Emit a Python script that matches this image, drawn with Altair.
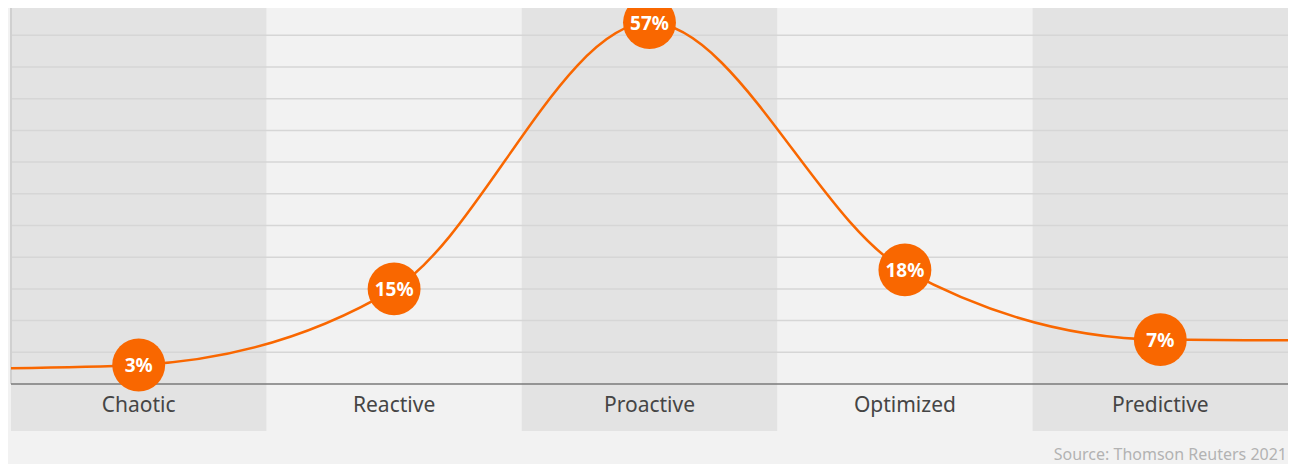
import altair as alt
import pandas as pd

# ---- data ----
stages = ["Chaotic", "Reactive", "Proactive", "Optimized", "Predictive"]
shares = [3, 15, 57, 18, 7]
share_labels = ["3%", "15%", "57%", "18%", "7%"]
edge_left_value = 2.5    # where the curve enters on the left
edge_right_value = 6.9   # where the curve leaves on the right
dark_stages = ["Chaotic", "Proactive", "Predictive"]
grid_values = [5, 10, 15, 20, 25, 30, 35, 40, 45, 50, 55]
source_text = "Source: Thomson Reuters 2021"

# ---- styling ----
ORANGE = "#f96700"
BG = "#f2f2f2"
BAND = "#e3e3e3"
GRID = "#d6d6d6"
FONT = "Noto Sans"

W, H = 1277, 423
Y_DOMAIN = [-7.413, 59.306]
LABEL_Y = -3.5

n = len(stages)
pts = pd.DataFrame({
    "stage": stages,
    "x": [i + 0.5 for i in range(n)],
    "share": shares,
    "label": share_labels,
})
bands = pd.DataFrame({
    "stage": stages,
    "x0": [i for i in range(n)],
    "x1": [i + 1 for i in range(n)],
    "dark": [s in dark_stages for s in stages],
})
bands = bands[bands["dark"]]
line_df = pd.DataFrame({
    "x": [0] + list(pts["x"]) + [n],
    "share": [edge_left_value] + shares + [edge_right_value],
})
grid_df = pd.DataFrame({"v": grid_values})
zero_df = pd.DataFrame({"v": [0]})
cat_df = pd.DataFrame({"stage": stages, "x": list(pts["x"]), "y": [LABEL_Y] * n})

xs = alt.Scale(domain=[0, n], nice=False, zero=False)
ys = alt.Scale(domain=Y_DOMAIN, nice=False, zero=False)

band_layer = alt.Chart(bands).mark_rect(color=BAND).encode(
    x=alt.X("x0:Q", scale=xs, axis=None),
    x2="x1:Q",
    y=alt.value(0),
    y2=alt.value(H),
)

grid_layer = alt.Chart(grid_df).mark_rule(color=GRID, strokeWidth=1.5).encode(
    y=alt.Y("v:Q", scale=ys, axis=None),
    x=alt.value(0),
    x2=alt.value(W),
)

left_axis = alt.Chart(zero_df).mark_rule(color="#d0d0d0", strokeWidth=2).encode(
    y=alt.Y("v:Q", scale=ys, axis=None),
    y2=alt.value(0),
    x=alt.value(0),
)

baseline = alt.Chart(zero_df).mark_rule(color="#7a7a7a", strokeWidth=1.5).encode(
    y=alt.Y("v:Q", scale=ys, axis=None),
    x=alt.value(0),
    x2=alt.value(W),
)

curve = alt.Chart(line_df).mark_line(
    color=ORANGE, strokeWidth=2.5, interpolate="monotone"
).encode(
    x=alt.X("x:Q", scale=xs, axis=None),
    y=alt.Y("share:Q", scale=ys, axis=None),
)

dots = alt.Chart(pts).mark_circle(size=2800, color=ORANGE, opacity=1).encode(
    x=alt.X("x:Q", scale=xs, axis=None),
    y=alt.Y("share:Q", scale=ys, axis=None),
)

dot_text = alt.Chart(pts).mark_text(
    color="white", font=FONT, fontWeight="bold", fontSize=19,
    baseline="middle", align="center", dy=1,
).encode(
    x=alt.X("x:Q", scale=xs, axis=None),
    y=alt.Y("share:Q", scale=ys, axis=None),
    text="label:N",
)

cat_text = alt.Chart(cat_df).mark_text(
    color="#454545", font=FONT, fontSize=21, baseline="middle", align="center",
).encode(
    x=alt.X("x:Q", scale=xs, axis=None),
    y=alt.Y("y:Q", scale=ys, axis=None),
    text="stage:N",
)

src = alt.Chart(pd.DataFrame({"t": [source_text]})).mark_text(
    color="#b3b3b3", font=FONT, fontSize=16, align="right", baseline="middle",
).encode(
    x=alt.value(W - 1),
    y=alt.value(H + 24),
    text="t:N",
)

chart = alt.layer(
    band_layer, grid_layer, left_axis, baseline, curve, dots, dot_text, cat_text, src
).properties(
    width=W,
    height=H,
    autosize=alt.AutoSizeParams(type="none"),
    padding={"left": 3, "top": 0, "right": 0, "bottom": 33},
    background=BG,
).configure_view(stroke=None)

chart.save("out.html", embed_options={"renderer": "svg", "actions": False})
